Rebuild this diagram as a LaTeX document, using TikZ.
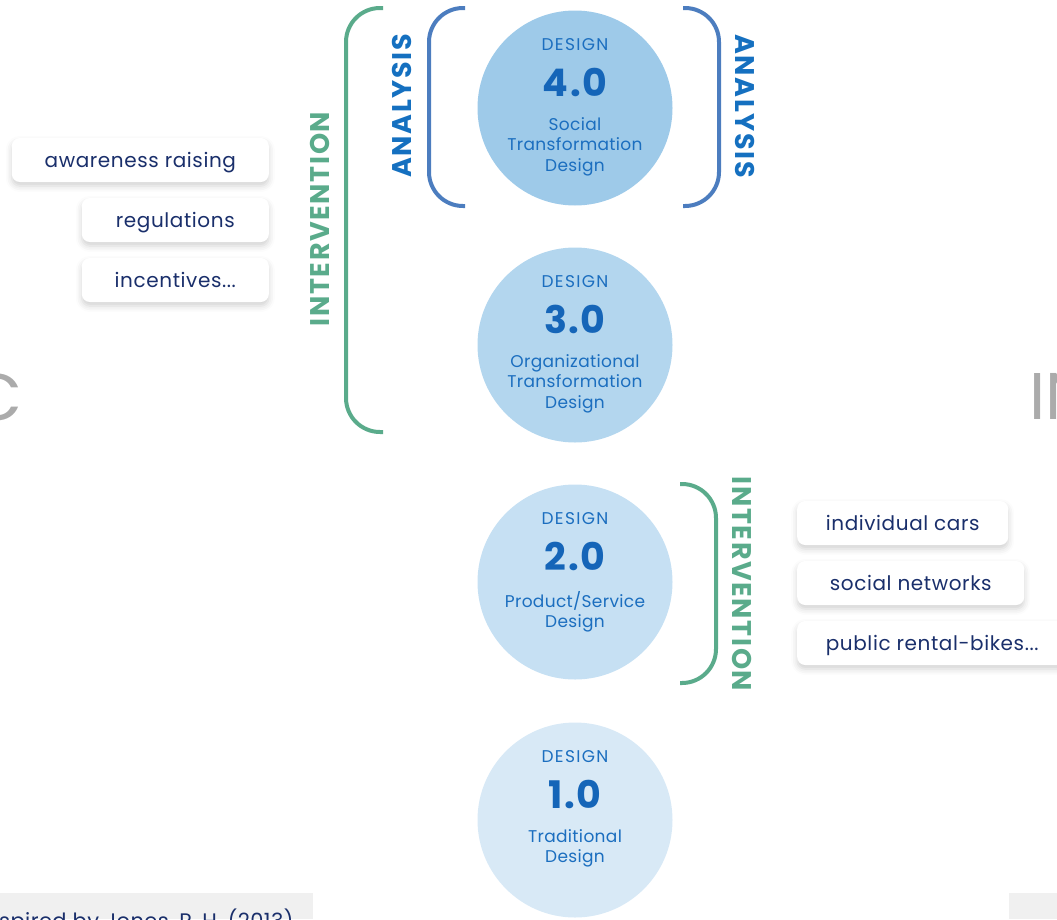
\documentclass[tikz,border=0pt]{standalone}
\usepackage{fontspec}
\setmainfont{Poppins}
\usetikzlibrary{shadows.blur}

\definecolor{navy}{HTML}{1A2F6B}
\definecolor{dsgblue}{HTML}{1B6EBF}
\definecolor{numblue}{HTML}{1565B8}
\definecolor{anblue}{HTML}{1570C0}
\definecolor{bracketblue}{HTML}{4C7DBF}
\definecolor{intgreen}{HTML}{5AAB8B}
\definecolor{capgray}{HTML}{ABABAB}
\definecolor{footgray}{HTML}{F0F0F0}
\definecolor{cfour}{HTML}{9ECAE9}
\definecolor{cthree}{HTML}{B3D6EE}
\definecolor{ctwo}{HTML}{C6E0F3}
\definecolor{cone}{HTML}{D8E9F6}

\tikzset{
  stage/.style={circle, minimum size=195pt, inner sep=0pt},
  dsg/.style={text=dsgblue, font=\fontsize{17}{20}\selectfont\addfontfeatures{LetterSpace=8}, inner sep=0pt},
  num/.style={text=numblue, font=\fontsize{38}{40}\selectfont\bfseries\addfontfeatures{LetterSpace=4}, inner sep=0pt},
  sub/.style={text=dsgblue, font=\fontsize{17}{20.5}\selectfont\addfontfeatures{LetterSpace=2}, align=center, inner sep=0pt},
  tag/.style={fill=white, rounded corners=8pt, minimum height=44pt, inner sep=0pt,
    text height=16pt, text depth=2pt,
    text=navy, font=\fontsize{20}{22}\selectfont\addfontfeatures{LetterSpace=3},
    blur shadow={shadow xshift=0pt, shadow yshift=-4pt, shadow blur radius=6pt, shadow opacity=18}},
  brace/.style={line width=4pt, rounded corners=34pt},
  vlabel/.style={font=\fontsize{27}{28}\selectfont\bfseries\addfontfeatures{LetterSpace=6}, inner sep=0pt},
}

\begin{document}
\begin{tikzpicture}[x=1pt, y=-1pt]
\useasboundingbox (0,0) rectangle (1057,919);
\clip (0,0) rectangle (1057,919);

% stages
\node[stage, fill=cfour]  (d4) at (575,108) {};
\node[stage, fill=cthree] (d3) at (575,345) {};
\node[stage, fill=ctwo]   (d2) at (575,582) {};
\node[stage, fill=cone]   (d1) at (575,820) {};

\foreach \s/\n/\txt in {d4/4.0/{Social\\Transformation\\Design},
                        d3/3.0/{Organizational\\Transformation\\Design},
                        d2/2.0/{Product/Service\\Design},
                        d1/1.0/{Traditional\\Design}}{
  \node[dsg, anchor=base] (\s-dsg) at ([yshift=58pt]\s.center) {DESIGN};
  \node[num, anchor=base] (\s-num) at ([yshift=12pt]\s.center) {\n};
  \node[sub, anchor=north] (\s-sub) at ([yshift=-9pt]\s.center) {\txt};
}

% brackets
\coordinate (gl-top) at (383,8);
\coordinate (gl-bot) at (383,432);
\draw[brace, intgreen] (gl-top) -- (346,8) -- (346,432) -- (gl-bot);
\coordinate (bl-top) at (465,8);
\coordinate (bl-bot) at (465,206);
\draw[brace, bracketblue] (bl-top) -- (429,8) -- (429,206) -- (bl-bot);
\coordinate (br-top) at (683,8);
\coordinate (br-bot) at (683,206);
\draw[brace, bracketblue] (br-top) -- (719,8) -- (719,206) -- (br-bot);
\coordinate (gr-top) at (680,484);
\coordinate (gr-bot) at (680,683);
\draw[brace, intgreen] (gr-top) -- (716,484) -- (716,683) -- (gr-bot);

\node[vlabel, text=intgreen, rotate=90] (int-l) at (320,219) {INTERVENTION};
\node[vlabel, text=anblue, rotate=90] (an-l) at (402,106) {ANALYSIS};
\node[vlabel, text=anblue, rotate=-90] (an-r) at (745,106) {ANALYSIS};
\node[vlabel, text=intgreen, rotate=-90] (int-r) at (742,584) {INTERVENTION};

% tags
\node[tag, anchor=east, minimum width=257pt] (aware) at (269,160) {awareness raising};
\node[tag, anchor=east, minimum width=187pt] (regul) at (269,220) {regulations};
\node[tag, anchor=east, minimum width=187pt] (incen) at (269,280) {incentives...};
\node[tag, anchor=west, minimum width=211pt] (cars) at (797,523) {individual cars};
\node[tag, anchor=west, minimum width=227pt] (social) at (797,583) {social networks};
\node[tag, anchor=west, minimum width=270pt] (bikes) at (797,643) {public rental-bikes...};

% cut-off titles and footer
\node[text=capgray, font=\fontsize{66}{70}\selectfont, anchor=east, inner sep=0pt] (capC) at (23,397) {C};
\node[text=capgray, font=\fontsize{66}{70}\selectfont, anchor=west, inner sep=0pt] (capIN) at (1029,396) {IN};
\fill[footgray] (0,893) rectangle (313,919);
\fill[footgray] (1009,893) rectangle (1057,919);
\node[text=navy, font=\fontsize{21}{24}\selectfont\addfontfeatures{LetterSpace=2}, anchor=base west, inner sep=0pt] (credit) at (-1,928) {spired by Jones, P. H. (2013)};
\end{tikzpicture}
\end{document}
